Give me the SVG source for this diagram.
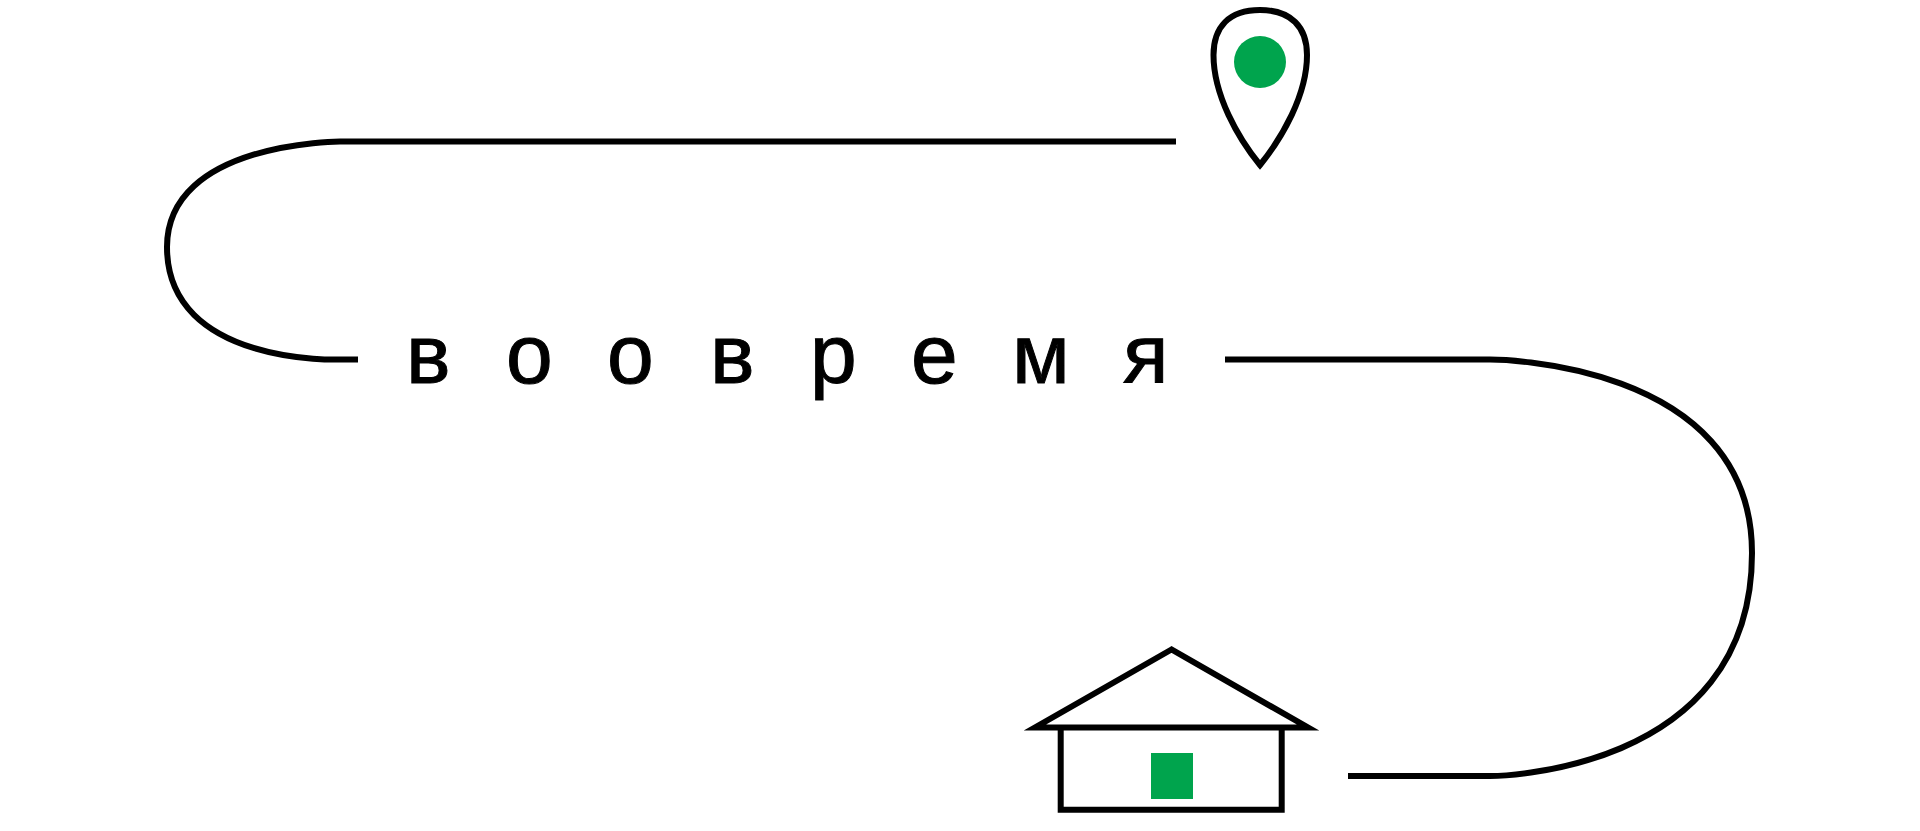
<svg xmlns="http://www.w3.org/2000/svg" width="1920" height="831" viewBox="0 0 1920 831">
<style>
.s{fill:none;stroke:#000;stroke-width:6}
.g{fill:#00a44d}
.t{font-family:"Liberation Sans",Arial,sans-serif;font-size:84px;fill:#000;stroke:#000;stroke-width:1}
</style>
<rect width="1920" height="831" fill="#fff"/>
<g id="connectors">
<path class="s" d="M1176 141.500H340C340 141.500 167 141.500 167 247C167 366 340 359.500 340 359.500H358"/>
<path class="s" d="M1225 359.500H1490C1490 359.500 1752 359.500 1752 553C1752 776 1490 776 1490 776H1348"/>
</g>
<g id="pin">
<path class="s" d="M1260 165C1238 138 1213.500 95 1213.500 55C1213.500 27 1229 10 1260 10C1291 10 1307 27 1307 55C1307 95 1282 138 1260 165Z"/>
<circle class="g" cx="1260" cy="62" r="26"/>
</g>
<g id="label">
<text class="t" y="383" x="406 506 607 710 810 911 1012 1123">воовремя</text>
</g>
<g id="house">
<path class="s" d="M1171.500 649.500L1035 727.500H1308Z"/>
<path class="s" d="M1060.700 727.500V809.700H1281.700V727.500"/>
<rect class="g" x="1151" y="753" width="42" height="46"/>
</g>
</svg>
